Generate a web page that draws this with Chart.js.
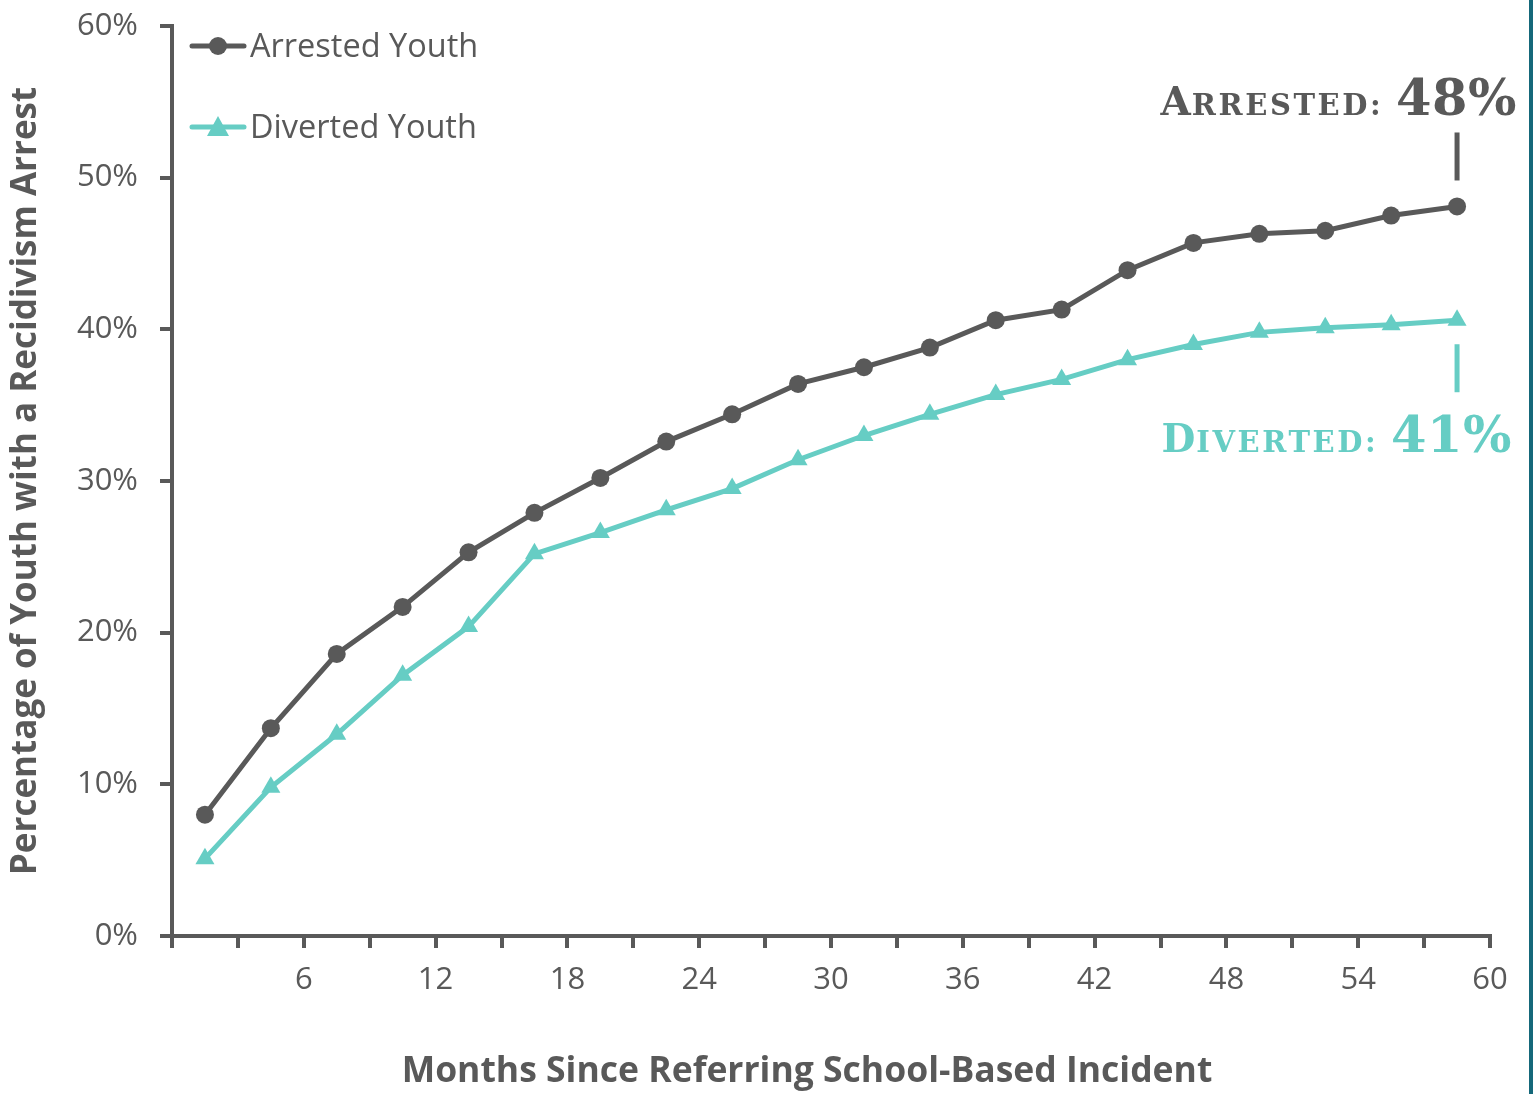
<!DOCTYPE html>
<html>
<head>
<meta charset="utf-8">
<script src="https://cdn.jsdelivr.net/npm/chart.js@4"></script>
<style>
  html, body { margin: 0; padding: 0; background: #fff; }
  #wrap { position: relative; width: 1533px; height: 1094px; }
  #edge { position: absolute; right: 0; top: 0; width: 4px; height: 1094px; background: #15687a; }
</style>
</head>
<body>
<div id="wrap">
  <canvas id="recidivism"></canvas>
  <div id="edge"></div>
</div>
<script>
var months = [1.5, 4.5, 7.5, 10.5, 13.5, 16.5, 19.5, 22.5, 25.5, 28.5, 31.5, 34.5, 37.5, 40.5, 43.5, 46.5, 49.5, 52.5, 55.5, 58.5];
var arrested = [8.0, 13.7, 18.6, 21.7, 25.3, 27.9, 30.2, 32.6, 34.4, 36.4, 37.5, 38.8, 40.6, 41.3, 43.9, 45.7, 46.3, 46.5, 47.5, 48.1];
var diverted = [5.1, 9.8, 13.3, 17.2, 20.4, 25.2, 26.6, 28.1, 29.5, 31.4, 33.0, 34.4, 35.7, 36.7, 38.0, 39.0, 39.8, 40.1, 40.3, 40.6];
var seriesNames = ['Arrested Youth', 'Diverted Youth'];
var xTickLabels = [6, 12, 18, 24, 30, 36, 42, 48, 54, 60];
var xTitle = 'Months Since Referring School-Based Incident';

var grey = '#595959';
var teal = '#66cdc4';

function pairs(xs, ys) {
    return xs.map(function (x, i) { return {x: x, y: ys[i]}; });
}

// legend drawn by hand: line with marker in the middle, top-left of the plot
var sideLegend = {
    id: 'sideLegend',
    afterDraw: function (chart) {
        var ctx = chart.ctx;
        var rows = [
            {name: seriesNames[0], color: grey, style: 'circle', y: 46},
            {name: seriesNames[1], color: teal, style: 'triangle', y: 127}
        ];
        ctx.save();
        rows.forEach(function (r) {
            ctx.strokeStyle = r.color;
            ctx.lineWidth = 5;
            ctx.lineCap = 'round';
            ctx.beginPath();
            ctx.moveTo(192, r.y);
            ctx.lineTo(244, r.y);
            ctx.stroke();
            ctx.fillStyle = r.color;
            ctx.beginPath();
            if (r.style === 'circle') {
                ctx.arc(218, r.y, 9, 0, Math.PI * 2);
            } else {
                ctx.moveTo(218, r.y - 11);
                ctx.lineTo(229, r.y + 9);
                ctx.lineTo(207, r.y + 9);
                ctx.closePath();
            }
            ctx.fill();
            ctx.fillStyle = grey;
            ctx.font = '32.5px "Open Sans"';
            ctx.textBaseline = 'middle';
            ctx.textAlign = 'left';
            ctx.fillText(r.name, 250, r.y + 2);
        });
        ctx.restore();
    }
};

// x title sits a little left of the plot centre in the original
var bottomTitle = {
    id: 'bottomTitle',
    afterDraw: function (chart) {
        var ctx = chart.ctx;
        ctx.save();
        ctx.fillStyle = grey;
        ctx.font = 'bold 35.5px "Open Sans"';
        ctx.textAlign = 'center';
        ctx.textBaseline = 'middle';
        ctx.fillText(xTitle, 807, 1072);
        ctx.restore();
    }
};

// small-caps call-outs at the end of each line
function drawCallout(ctx, parts, right, baseline, color) {
    var widths = parts.map(function (p) {
        ctx.font = 'bold ' + p.size + 'px "DejaVu Serif"';
        ctx.letterSpacing = p.spacing + 'px';
        return ctx.measureText(p.text).width;
    });
    var total = widths.reduce(function (a, b) { return a + b; }, 0);
    var x = right - total;
    ctx.fillStyle = color;
    ctx.textAlign = 'left';
    ctx.textBaseline = 'alphabetic';
    parts.forEach(function (p, i) {
        ctx.font = 'bold ' + p.size + 'px "DejaVu Serif"';
        ctx.letterSpacing = p.spacing + 'px';
        ctx.fillText(p.text, x, baseline);
        x += widths[i];
    });
    ctx.letterSpacing = '0px';
}

var endLabels = {
    id: 'endLabels',
    afterDraw: function (chart) {
        var ctx = chart.ctx;
        var xs = chart.scales.x, ys = chart.scales.y;
        var last = months.length - 1;
        var px = xs.getPixelForValue(months[last]);
        var pa = ys.getPixelForValue(arrested[last]);
        var pd = ys.getPixelForValue(diverted[last]);
        ctx.save();
        ctx.lineWidth = 5;
        ctx.strokeStyle = grey;
        ctx.beginPath();
        ctx.moveTo(px, pa - 74);
        ctx.lineTo(px, pa - 26);
        ctx.stroke();
        ctx.strokeStyle = teal;
        ctx.beginPath();
        ctx.moveTo(px, pd + 24);
        ctx.lineTo(px, pd + 72);
        ctx.stroke();
        drawCallout(ctx, [
            {text: 'A', size: 39, spacing: 1},
            {text: 'RRESTED: ', size: 29, spacing: 2.6},
            {text: Math.round(arrested[last]) + '%', size: 51, spacing: 0.5}
        ], 1517, pa - 91, grey);
        drawCallout(ctx, [
            {text: 'D', size: 39, spacing: 1},
            {text: 'IVERTED: ', size: 29, spacing: 2.6},
            {text: Math.round(diverted[last]) + '%', size: 51, spacing: 0.5}
        ], 1512, pd + 132, teal);
        ctx.restore();
    }
};

var ctx = document.getElementById('recidivism').getContext('2d');
new Chart(ctx, {
    type: 'line',
    data: {
        datasets: [{
            label: seriesNames[0],
            data: pairs(months, arrested),
            borderColor: grey,
            backgroundColor: grey,
            borderWidth: 5,
            pointStyle: 'circle',
            pointRadius: 9,
            pointBorderWidth: 0,
            tension: 0,
            clip: false
        },
        {
            label: seriesNames[1],
            data: pairs(months, diverted),
            borderColor: teal,
            backgroundColor: teal,
            borderWidth: 5,
            pointStyle: 'triangle',
            pointRadius: 11,
            pointBorderWidth: 0,
            tension: 0,
            clip: false
        }]
    },
    options: {
        responsive: true,
        maintainAspectRatio: false,
        animation: false,
        layout: {
            padding: {top: 26, right: 43, bottom: 0, left: 0}
        },
        plugins: {
            legend: {display: false},
            tooltip: {enabled: false}
        },
        scales: {
            x: {
                type: 'linear',
                min: 0,
                max: 60,
                afterFit: function (scale) {
                    scale.height = 158;
                    scale.paddingLeft = 0;
                    scale.paddingRight = 0;
                },
                afterBuildTicks: function (scale) {
                    var t = [];
                    for (var v = 0; v <= 60; v += 3) t.push({value: v});
                    scale.ticks = t;
                },
                border: {color: grey, width: 4},
                grid: {drawOnChartArea: false, drawTicks: true, tickLength: 12, color: grey, lineWidth: 4},
                ticks: {
                    autoSkip: false,
                    maxRotation: 0,
                    color: grey,
                    font: {family: 'Open Sans', size: 31},
                    padding: 14,
                    callback: function (v) { return xTickLabels.indexOf(v) >= 0 ? String(v) : ''; }
                },
                title: {display: false}
            },
            y: {
                min: 0,
                max: 60,
                afterFit: function (scale) {
                    scale.width = 172;
                    scale.paddingTop = 0;
                    scale.paddingBottom = 0;
                },
                border: {color: grey, width: 4},
                grid: {drawOnChartArea: false, drawTicks: true, tickLength: 12, color: grey, lineWidth: 4},
                ticks: {
                    stepSize: 10,
                    color: grey,
                    font: {family: 'Open Sans', size: 31},
                    padding: 22,
                    callback: function (v) { return v + '%'; }
                },
                title: {
                    display: true,
                    text: 'Percentage of Youth with a Recidivism Arrest',
                    color: grey,
                    font: {family: 'Open Sans', size: 35, weight: 'bold'},
                    padding: {top: 5, bottom: 0}
                }
            }
        }
    },
    plugins: [sideLegend, bottomTitle, endLabels]
});
</script>
</body>
</html>
